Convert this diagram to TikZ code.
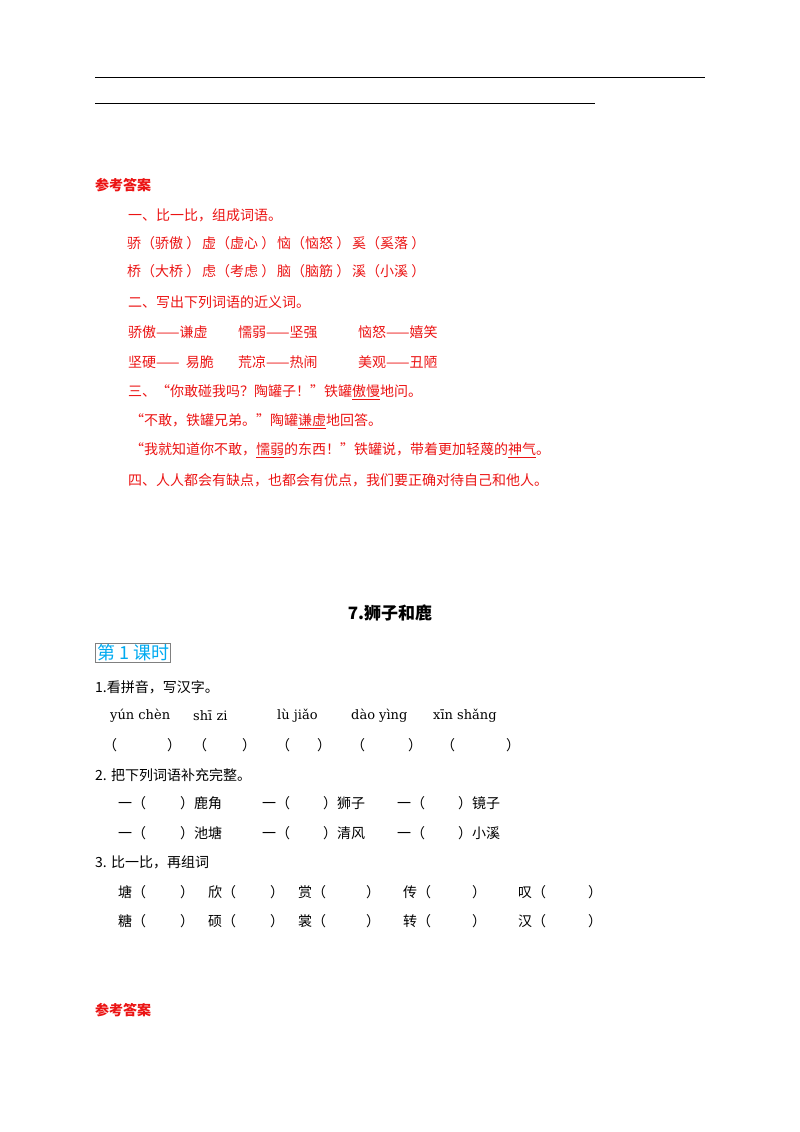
\documentclass[tikz,border=0pt]{standalone}
\usepackage{fontspec}
\setmainfont{Noto Sans CJK SC}
\newfontfamily\pyf{DejaVu Serif}
\definecolor{ans}{RGB}{235,20,20}
\definecolor{lesson}{RGB}{0,170,240}
\begin{document}
\begin{tikzpicture}[x=1pt,y=-1pt,
  t/.style={anchor=west,inner sep=0pt,font=\fontsize{14}{14}\selectfont},
  r/.style={t,text=ans},
  p/.style={t,font=\pyf\fontsize{13}{13}\selectfont}]
\useasboundingbox (0,0) rectangle (800,1132);
\coordinate (l1a) at (95,77); \coordinate (l1b) at (705,77);
\coordinate (l2a) at (95,103); \coordinate (l2b) at (595,103);
\draw[line width=1pt] (l1a) -- (l1b);
\draw[line width=1pt] (l2a) -- (l2b);
\node[r,font=\bfseries\fontsize{14}{14}\selectfont] (ck1) at (95,185) {参考答案};
\node[r] (a1) at (128,215) {一、比一比，组成词语。};
\foreach \x/\s [count=\i] in {127/骄（骄傲 ）,202/虚（虚心 ）,277/恼（恼怒 ）,352/奚（奚落 ）}
  \node[r] (a2\i) at (\x,243) {\s};
\foreach \x/\s [count=\i] in {127/桥（大桥 ）,202/虑（考虑 ）,277/脑（脑筋 ）,352/溪（小溪 ）}
  \node[r] (a3\i) at (\x,271) {\s};
\node[r] (a4) at (128,302) {二、写出下列词语的近义词。};
\node[r] (a5a) at (128,332) {骄傲——谦虚};
\node[r] (a5b) at (238,332) {懦弱——坚强};
\node[r] (a5c) at (358,332) {恼怒——嬉笑};
\node[r] (a6a) at (128,362) {坚硬—— \ 易脆};
\node[r] (a6b) at (238,362) {荒凉——热闹};
\node[r] (a6c) at (358,362) {美观——丑陋};
\node[r] (a7) at (128,392) {三、“你敢碰我吗？陶罐子！”铁罐\underline{傲慢}地问。};
\node[r] (a8) at (130,421) {“不敢，铁罐兄弟。”陶罐\underline{谦虚}地回答。};
\node[r] (a9) at (130,450) {“我就知道你不敢，\underline{懦弱}的东西！”铁罐说，带着更加轻蔑的\underline{神气}。};
\node[r] (a10) at (128,480) {四、人人都会有缺点，也都会有优点，我们要正确对待自己和他人。};
\node[t,font=\bfseries\fontsize{17}{17}\selectfont,anchor=center] (title) at (390,613) {7.狮子和鹿};
\node[t,draw=gray,line width=1pt,text=lesson,inner sep=1.5pt,font=\fontsize{18}{18}\selectfont] (ks) at (95,653) {第 1 课时};
\node[t] (q1) at (95,687) {1.看拼音，写汉字。};
\node[p] (py1) at (110,716) {yún chèn};
\node[p] (py2) at (193,716) {shī zi};
\node[p] (py3) at (277,716) {lù jiǎo};
\node[p] (py4) at (351,716) {dào yìng};
\node[p] (py5) at (433,716) {xīn shǎng};
\foreach \a/\b [count=\i] in {103/167,193/242,276/317,351/408,441/506}{
  \node[t] (bo\i) at (\a,745) {（};
  \node[t] (bc\i) at (\b,745) {）};
}
\node[t] (q2) at (95,775) {2. 把下列词语补充完整。};
\foreach \y/\w/\u/\v [count=\j] in {803/鹿角/狮子/镜子,833/池塘/清风/小溪}{
  \node[t] (c\j a) at (118,\y) {一（};
  \node[t] (c\j b) at (180,\y) {）\w};
  \node[t] (c\j c) at (262,\y) {一（};
  \node[t] (c\j d) at (323,\y) {）\u};
  \node[t] (c\j e) at (397,\y) {一（};
  \node[t] (c\j f) at (458,\y) {）\v};
}
\node[t] (q3) at (95,862) {3. 比一比，再组词};
\foreach \y/\p/\q/\r/\s/\z [count=\k] in {892/塘/欣/赏/传/叹,921/糖/硕/裳/转/汉}{
  \node[t] (d\k a) at (118,\y) {\p（};
  \node[t] (d\k b) at (180,\y) {）};
  \node[t] (d\k c) at (208,\y) {\q（};
  \node[t] (d\k d) at (270,\y) {）};
  \node[t] (d\k e) at (298,\y) {\r（};
  \node[t] (d\k f) at (366,\y) {）};
  \node[t] (d\k g) at (403,\y) {\s（};
  \node[t] (d\k h) at (472,\y) {）};
  \node[t] (d\k i) at (518,\y) {\z（};
  \node[t] (d\k j) at (588,\y) {）};
}
\node[r,font=\bfseries\fontsize{14}{14}\selectfont] (ck2) at (95,1010) {参考答案};
\end{tikzpicture}
\end{document}
